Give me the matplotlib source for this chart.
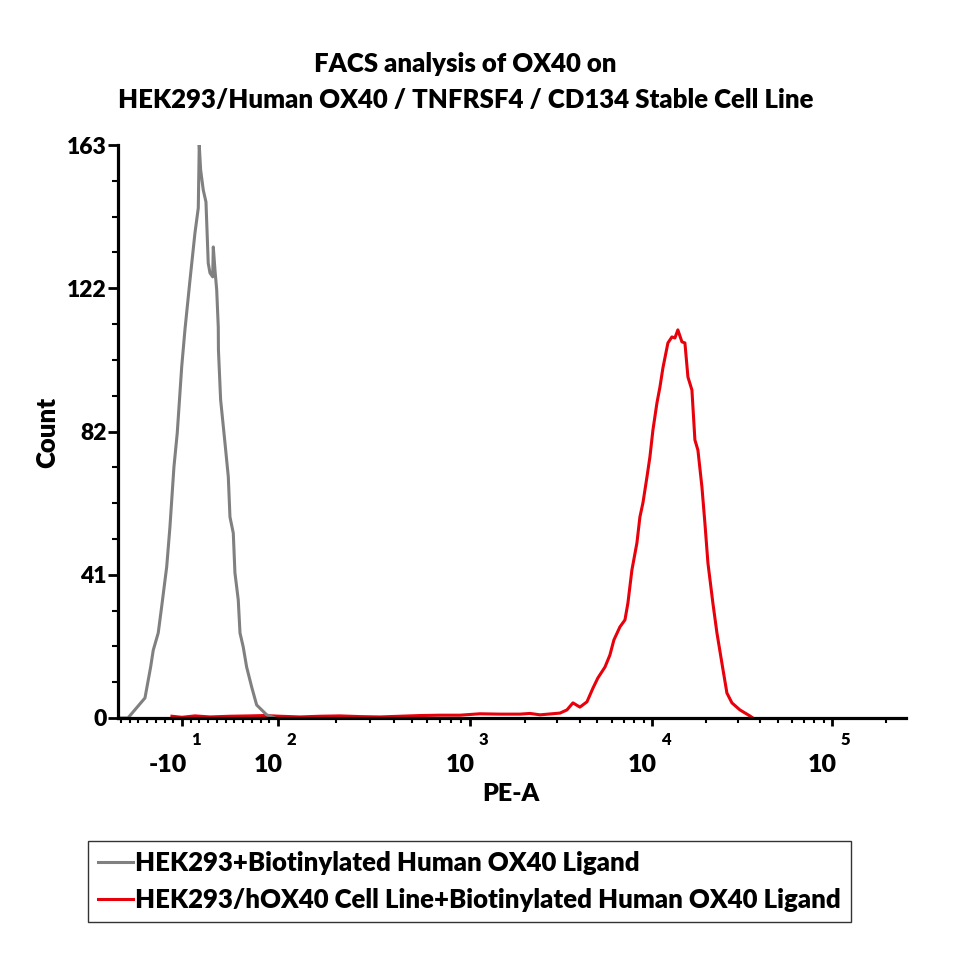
import numpy as np
import matplotlib
matplotlib.use("Agg")
import matplotlib.pyplot as plt
from matplotlib.scale import FuncScale

plt.rcParams['font.family'] = ['Lato', 'DejaVu Sans']
plt.rcParams['font.weight'] = 'bold'
W = 'heavy'

# ---------------- data ----------------
gray_label = "HEK293+Biotinylated Human OX40 Ligand"
red_label = "HEK293/hOX40 Cell Line+Biotinylated Human OX40 Ligand"

gray_pe = [-83.3, -71.9, -52.4, -45.9, -42.9, -37.2, -33.3, -27.5, -23.8, -19.2,
           -15.4, -10.3, -6.6, -0.8, 4.9, 8.7, 9.8, 11.4, 14.4, 17.5,
           20.1, 22.1, 25.2, 25.9, 27.8, 29.8, 31.6, 31.8, 34.3, 39.3,
           43.1, 45.0, 48.8, 50.7, 54.5, 56.5, 60.2, 64.1, 69.9, 75.6,
           87.1, 96.6]
gray_count = [0, 0, 5.7, 14.5, 19.3, 24.2, 31.6, 43.0, 54.3, 71.4,
              81.1, 99.9, 110.4, 124.6, 138.0, 145.1, 163, 155.9, 150.2, 146.8,
              129.4, 126.6, 125.5, 134.0, 127.5, 121.8, 111.2, 104.7, 90.5, 78.2,
              68.6, 57.2, 52.6, 41.3, 33.6, 24.2, 20.2, 14.5, 8.8, 3.7,
              0.9, 0]

red_pe = [-21.5, -10, 4.9, 22.1, 45, 67.9, 85.1, 102.4, 130.2, 165.4,
          210.3, 267.3, 339.8, 431.7, 549.2, 697.7, 887, 1135, 1462, 1883,
          2137, 2427, 3125, 3412, 3681, 4020, 4395, 4742, 5047, 5521,
          5875, 6180, 6668, 7108, 7379, 7762, 8270, 8590, 8925, 9393,
          9750, 10128, 10660, 11076, 11510, 12270, 12915, 13420, 13935, 14678,
          15250, 15850, 16680, 17330, 18010, 18960, 19690, 20470, 21810, 22970,
          24480, 26100, 27830, 30820, 35000, 36400]
red_count = [0.5, 0.2, 0.6, 0.3, 0.5, 0.6, 0.7, 0.5, 0.3, 0.5,
             0.6, 0.4, 0.3, 0.5, 0.7, 0.8, 0.8, 1.2, 1.1, 1.1,
             1.3, 0.9, 1.4, 2.3, 4.3, 3.1, 4.6, 8.5, 11.4, 14.5,
             17.9, 22.2, 25.9, 27.9, 32.7, 42.1, 49.8, 57.2, 61.2, 68.6,
             74.3, 81.9, 89.6, 94.1, 99.6, 106.7, 108.4, 108.1, 110.4, 107.0,
             106.7, 97.0, 93.3, 79.1, 76.2, 65.7, 55.5, 44.1, 32.7, 24.2,
             15.6, 7.1, 4.3, 2.3, 0.6, 0]

y_ticks = [0, 41, 82, 122, 163]
x_major = [-10, 1e2, 1e3, 1e4, 1e5]
x_base = ["-10", "10", "10", "10", "10"]
x_exp = ["1", "2", "3", "4", "5"]

# ---------------- display scale (linear near zero, log above 100) ----------------
_LOGS = np.array([2.0, 3.0, 4.0, 5.0, 7.0])
_POS = np.array([96.0, 288.0, 470.0, 650.0, 1010.0])


def fwd(v):
    v = np.asarray(v, dtype=float)
    lin = (v + 10.0) * 96.0 / 110.0
    lg = np.interp(np.log10(np.maximum(v, 100.0)), _LOGS, _POS)
    return np.where(v <= 100.0, lin, lg)


def inv(p):
    p = np.asarray(p, dtype=float)
    lin = p * 110.0 / 96.0 - 10.0
    lg = 10.0 ** np.interp(np.maximum(p, 96.0), _POS, _LOGS)
    return np.where(p <= 96.0, lin, lg)


fig = plt.figure(figsize=(9.64, 9.64), dpi=100)
ax = fig.add_axes([118 / 964, 1 - 718 / 964, (906 - 118) / 964, (718 - 145) / 964])
ax.set_xscale(FuncScale(ax, (fwd, inv)))

ax.plot(gray_pe, gray_count, color='#808080', lw=2.2, label=gray_label, zorder=3)
ax.plot(red_pe, red_count, color='#e8000b', lw=2.2, label=red_label, zorder=2)

ax.set_xlim(-83.3, 2.58e5)
ax.set_ylim(0, 163)

for s in ['top', 'right']:
    ax.spines[s].set_visible(False)
for s in ['left', 'bottom']:
    ax.spines[s].set_linewidth(2.3)
    ax.spines[s].set_zorder(4)

# y ticks
ax.set_yticks(np.linspace(0, 163, 5))
ax.set_yticklabels([str(t) for t in y_ticks], fontsize=16.5, fontweight=W)
ax.set_yticks(np.linspace(0, 163, 17), minor=True)
ax.tick_params(axis='y', which='major', length=7, width=2, pad=1)
ax.tick_params(axis='y', which='minor', length=4, width=1.5)

# x ticks
minor_x = [v for v in range(-80, 100, 10) if v != -10]
for k in (2, 3, 4):
    minor_x += [m * 10 ** k for m in range(2, 10)]
minor_x += [2e5]
ax.set_xticks(x_major)
ax.set_xticklabels([""] * len(x_major))
ax.set_xticks(minor_x, minor=True)
ax.tick_params(axis='x', which='major', length=6, width=2)
ax.tick_params(axis='x', which='minor', length=3.5, width=1.5)

trans = ax.get_xaxis_transform()
for v, b, e in zip(x_major, x_base, x_exp):
    ax.annotate(b, xy=(v, 0), xycoords=trans, xytext=(5, -54), textcoords='offset pixels',
                ha='right', va='baseline', fontsize=18, fontweight=W, annotation_clip=False)
    ax.annotate(e, xy=(v, 0), xycoords=trans, xytext=(9, -27), textcoords='offset pixels',
                ha='left', va='baseline', fontsize=12, fontweight=W, annotation_clip=False)

fig.text(511 / 964, 1 - 794 / 964, "PE-A", ha='center', va='center', fontsize=18, fontweight=W)
fig.text(47 / 964, 1 - 432 / 964, "Count", ha='center', va='center', rotation=90,
         fontsize=18.5, fontweight=W)

fig.text(465 / 964, 1 - 64 / 964, "FACS analysis of OX40 on", ha='center', va='center',
         fontsize=18.5, fontweight=W)
fig.text(466 / 964, 1 - 100 / 964, "HEK293/Human OX40 / TNFRSF4 / CD134 Stable Cell Line",
         ha='center', va='center', fontsize=18.5, fontweight=W)

leg = fig.legend(loc='lower left', bbox_to_anchor=(88 / 964, 1 - 922 / 964),
                 prop={'size': 18.5, 'weight': W}, frameon=True, fancybox=False,
                 edgecolor='black', handlelength=1.35, handletextpad=0.06, borderpad=0.4,
                 labelspacing=0.5, borderaxespad=0)
leg.get_frame().set_linewidth(1.0)

fig.savefig("out.png", dpi=100, facecolor='white')
